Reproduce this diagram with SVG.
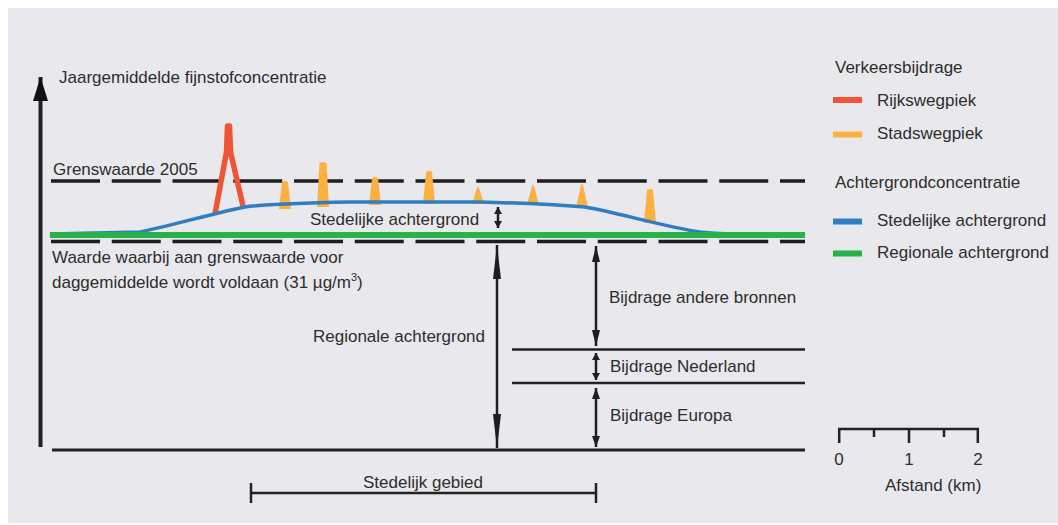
<svg xmlns="http://www.w3.org/2000/svg" width="1058" height="525" viewBox="0 0 1058 525">
<style>
text{font-family:"Liberation Sans",Arial,sans-serif;font-size:17px;fill:#2d2d2d}
.ln{stroke:#222;fill:none}
.dash{stroke:#1e1e1e;stroke-width:3.5;stroke-dasharray:49 11.75;fill:none}
.dbl{stroke:#1e1e1e;stroke-width:2.5;fill:none}
.og{fill:#fbb040}
.sw{stroke-width:6;fill:none}
</style>
<defs>
<marker id="m-y" markerUnits="userSpaceOnUse" markerWidth="24" markerHeight="15" refX="24" refY="7.5" orient="auto"><path d="M0,0 L24,7.5 L0,15 Z" fill="#111"/></marker>
<marker id="m-big" markerUnits="userSpaceOnUse" markerWidth="34" markerHeight="8" refX="34" refY="4" orient="auto-start-reverse"><path d="M0,0 L34,4 L0,8 Z" fill="#1e1e1e"/></marker>
<marker id="m-mid" markerUnits="userSpaceOnUse" markerWidth="16" markerHeight="8" refX="16" refY="4" orient="auto-start-reverse"><path d="M0,0 L16,4 L0,8 Z" fill="#1e1e1e"/></marker>
<marker id="m-eu" markerUnits="userSpaceOnUse" markerWidth="11" markerHeight="8" refX="11" refY="4" orient="auto-start-reverse"><path d="M0,0 L11,4 L0,8 Z" fill="#1e1e1e"/></marker>
<marker id="m-sm" markerUnits="userSpaceOnUse" markerWidth="7" markerHeight="8" refX="7" refY="4" orient="auto-start-reverse"><path d="M0,0 L7,4 L0,8 Z" fill="#1e1e1e"/></marker>
</defs>
<rect x="0" y="0" width="1058" height="525" fill="#ffffff"/>
<rect x="8" y="8" width="1050" height="515" fill="#e9e9ed"/>

<g id="axis">
<line class="ln" x1="40.5" y1="447" x2="40.5" y2="77" stroke-width="4" marker-end="url(#m-y)"/>
<text x="59" y="83">Jaargemiddelde fijnstofconcentratie</text>
<line class="ln" x1="52" y1="450" x2="805" y2="450" stroke-width="3"/>
</g>

<g id="grenswaarde">
<line class="dash" x1="51" y1="181" x2="805" y2="181"/>
<text x="53" y="175">Grenswaarde 2005</text>
</g>

<g id="daggrens">
<line class="dash" x1="51" y1="241.5" x2="805" y2="241.5"/>
<text x="52" y="263">Waarde waarbij aan grenswaarde voor</text>
<text x="52" y="288">daggemiddelde wordt voldaan (31 µg/m<tspan dy="-7" font-size="11">3</tspan><tspan dy="7">)</tspan></text>
</g>

<g id="stadswegpieken">
<path class="og" d="M279,209 L282,182 Q285,180 288,182 L291,209 Z"/>
<path class="og" d="M317,207 L319.5,163 Q323,161 326.5,163 L329,207 Z"/>
<path class="og" d="M369,205 L372,178 Q375,176 378,178 L381,205 Z"/>
<path class="og" d="M423,204 L426,172 Q429,170 432,172 L435,204 Z"/>
<path class="og" d="M472,204 L477,188 Q478,186 479,188 L484,204 Z"/>
<path class="og" d="M527,205 L532,186 Q533,184 534,186 L539,205 Z"/>
<path class="og" d="M576,208 L581,185 Q582,183 583,185 L588,208 Z"/>
<path class="og" d="M644,223 L647,190 Q650,188 653,190 L656,223 Z"/>
</g>

<g id="rijkswegpiek">
<path d="M215,214 L226.5,152 L227.5,126 L229.5,126 L230.5,152 L243,206" fill="none" stroke="#ef5535" stroke-width="5.5" stroke-linejoin="round"/>
</g>

<g id="stedelijke-achtergrond">
<path d="M50,234 L140,232 C170,226 210,214 245,207 C265,204 300,203 350,202 L480,202 C520,203 560,205 585,207 C615,212 665,227 700,232 C720,234 745,235 770,235" fill="none" stroke="#2f7dc3" stroke-width="3.5"/>
<text x="310" y="225">Stedelijke achtergrond</text>
</g>

<g id="regionale-achtergrond">
<line x1="50" y1="235" x2="805" y2="235" stroke="#27b24a" stroke-width="6"/>
<text x="485" y="342" text-anchor="end">Regionale achtergrond</text>
</g>

<g id="bijdragen">
<line class="ln" x1="512" y1="349.5" x2="805" y2="349.5" stroke-width="2.5"/>
<line class="ln" x1="512" y1="383" x2="805" y2="383" stroke-width="2.5"/>
<text x="609" y="303">Bijdrage andere bronnen</text>
<text x="610" y="372">Bijdrage Nederland</text>
<text x="610" y="421">Bijdrage Europa</text>
</g>

<g id="connectors">
<line class="dbl" x1="498" y1="207" x2="498" y2="228" stroke-width="3" marker-start="url(#m-sm)" marker-end="url(#m-sm)"/>
<line class="dbl" x1="497" y1="245" x2="497" y2="448" marker-start="url(#m-big)" marker-end="url(#m-big)"/>
<line class="dbl" x1="596" y1="246" x2="596" y2="346" marker-start="url(#m-mid)" marker-end="url(#m-mid)"/>
<line class="dbl" x1="596" y1="353" x2="596" y2="380" stroke-width="3" marker-start="url(#m-sm)" marker-end="url(#m-sm)"/>
<line class="dbl" x1="596" y1="388" x2="596" y2="447" marker-start="url(#m-eu)" marker-end="url(#m-eu)"/>
</g>

<g id="stedelijk-gebied">
<line class="ln" x1="251" y1="493" x2="596" y2="493" stroke-width="2.5"/>
<line class="ln" x1="251" y1="483" x2="251" y2="503" stroke-width="2.5"/>
<line class="ln" x1="596" y1="483" x2="596" y2="503" stroke-width="2.5"/>
<text x="423" y="488" text-anchor="middle">Stedelijk gebied</text>
</g>

<g id="schaal">
<line class="ln" x1="838" y1="429" x2="979" y2="429" stroke-width="2.5"/>
<line class="ln" x1="839.2" y1="428" x2="839.2" y2="443" stroke-width="2.5"/>
<line class="ln" x1="909" y1="428" x2="909" y2="443" stroke-width="2.5"/>
<line class="ln" x1="977.8" y1="428" x2="977.8" y2="443" stroke-width="2.5"/>
<line class="ln" x1="874" y1="428" x2="874" y2="437" stroke-width="2.5"/>
<line class="ln" x1="944" y1="428" x2="944" y2="437" stroke-width="2.5"/>
<text x="839" y="465" text-anchor="middle">0</text>
<text x="909" y="465" text-anchor="middle">1</text>
<text x="978" y="465" text-anchor="middle">2</text>
<text x="885" y="491">Afstand (km)</text>
</g>

<g id="legenda">
<text x="835" y="73">Verkeersbijdrage</text>
<line class="sw" x1="833" y1="100" x2="862" y2="100" stroke="#ef5535"/>
<text x="877" y="106">Rijkswegpiek</text>
<line class="sw" x1="833" y1="134.5" x2="862" y2="134.5" stroke="#fbb040"/>
<text x="877" y="138.5">Stadswegpiek</text>
<text x="835" y="188">Achtergrondconcentratie</text>
<line class="sw" x1="833" y1="221.5" x2="862" y2="221.5" stroke="#2f7dc3"/>
<text x="877" y="225.5">Stedelijke achtergrond</text>
<line class="sw" x1="833" y1="253.5" x2="862" y2="253.5" stroke="#27b24a"/>
<text x="877" y="258">Regionale achtergrond</text>
</g>
</svg>
